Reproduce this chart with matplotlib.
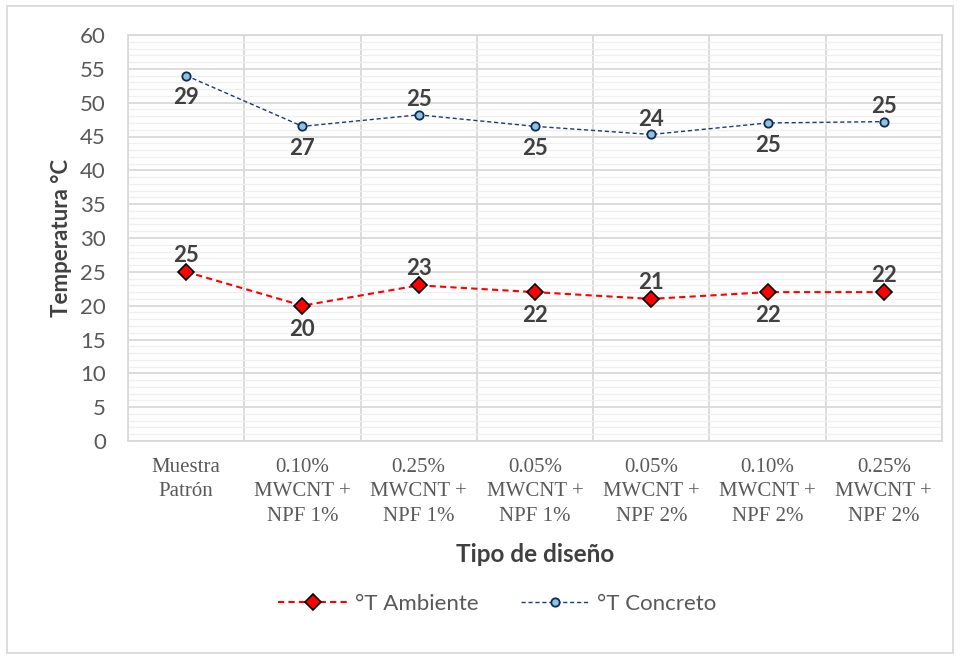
import matplotlib
matplotlib.use("Agg")
import matplotlib.pyplot as plt
from matplotlib.ticker import MultipleLocator, FixedLocator
from matplotlib.patches import Rectangle

categories = ["Muestra\nPatrón", "0.10%\nMWCNT +\nNPF 1%", "0.25%\nMWCNT +\nNPF 1%",
              "0.05%\nMWCNT +\nNPF 1%", "0.05%\nMWCNT +\nNPF 2%", "0.10%\nMWCNT +\nNPF 2%",
              "0.25%\nMWCNT +\nNPF 2%"]
t_ambiente = [25, 20, 23, 22, 21, 22, 22]
t_concreto = [54, 46.5, 48.2, 46.5, 45.3, 47.0, 47.2]
lbl_ambiente = ["25", "20", "23", "22", "21", "22", "22"]
lbl_concreto = ["29", "27", "25", "25", "24", "25", "25"]
pos_ambiente = ["above", "below", "above", "below", "above", "below", "above"]
pos_concreto = ["below", "below", "above", "below", "above", "below", "above"]

font = ["Lato", "DejaVu Sans"]
plt.rcParams['font.family'] = font

fig = plt.figure(figsize=(9.6, 6.59), dpi=100)
ax = fig.add_axes([128/960, 1-441/659, (942-128)/960, (441-35)/659])

x = list(range(len(categories)))
ax.plot(x, t_ambiente, linestyle=(0, (3, 2)), color="#FF0000", lw=1.5, marker="D",
        markersize=8, markerfacecolor="#FF0000", markeredgecolor="black", markeredgewidth=1.2,
        label="°T Ambiente", zorder=3)
ax.plot(x, t_concreto, linestyle=(0, (3, 2)), color="#1F3A6E", lw=1.0, marker="o",
        markersize=6, markerfacecolor="#8EC3DB", markeredgecolor="#0E2A5A", markeredgewidth=1.3,
        label="°T Concreto", zorder=3)

for xi, v, l, p in zip(x, t_ambiente, lbl_ambiente, pos_ambiente):
    off = 12 if p == "above" else -17
    ax.annotate(l, (xi, v), xytext=(0, off), textcoords="offset points",
                ha="center", va="center",
                fontsize=16, fontweight="bold", color="#404040")
for xi, v, l, p in zip(x, t_concreto, lbl_concreto, pos_concreto):
    off = 11 if p == "above" else -16
    ax.annotate(l, (xi, v), xytext=(0, off), textcoords="offset points",
                ha="center", va="center",
                fontsize=16, fontweight="bold", color="#404040")

ax.set_xlim(-0.5, len(categories) - 0.5)
ax.set_ylim(0, 60)
ax.yaxis.set_major_locator(MultipleLocator(5))
ax.yaxis.set_minor_locator(MultipleLocator(1))
ax.set_xticks(x)
ax.set_xticklabels(categories, family=["Liberation Serif"], fontsize=15, color="#595959",
                   linespacing=1.4)
ax.xaxis.set_minor_locator(FixedLocator([i + 0.5 for i in range(-1, len(categories))]))
ax.grid(which="major", axis="y", color="#D9D9D9", lw=1.3)
ax.grid(which="minor", axis="y", color="#EFEFEF", lw=0.9)
ax.grid(which="minor", axis="x", color="#D9D9D9", lw=1.3)
ax.set_axisbelow(True)
ax.tick_params(axis="x", which="both", length=0, pad=12)
ax.tick_params(axis="y", which="both", length=0, labelsize=16, labelcolor="#595959", pad=16)
for s in ax.spines.values():
    s.set_color("#D9D9D9")
    s.set_linewidth(1.3)

ax.set_ylabel("Temperatura °C", fontsize=16, fontweight="bold", color="#404040", labelpad=6)
ax.set_xlabel("Tipo de diseño", fontsize=17.5, fontweight="bold", color="#404040", labelpad=12)

fig.legend(loc="center", bbox_to_anchor=(0.518, 1 - 604/659), ncol=2, frameon=False,
           fontsize=16, labelcolor="#595959", handlelength=3.1, columnspacing=1.9,
           handletextpad=0.35)

fig.patches.append(Rectangle((7/960, 6/659), 946/960, 647/659, transform=fig.transFigure,
                             fill=False, edgecolor="#D9D9D9", lw=1.3))

fig.savefig("out.png", dpi=100)
